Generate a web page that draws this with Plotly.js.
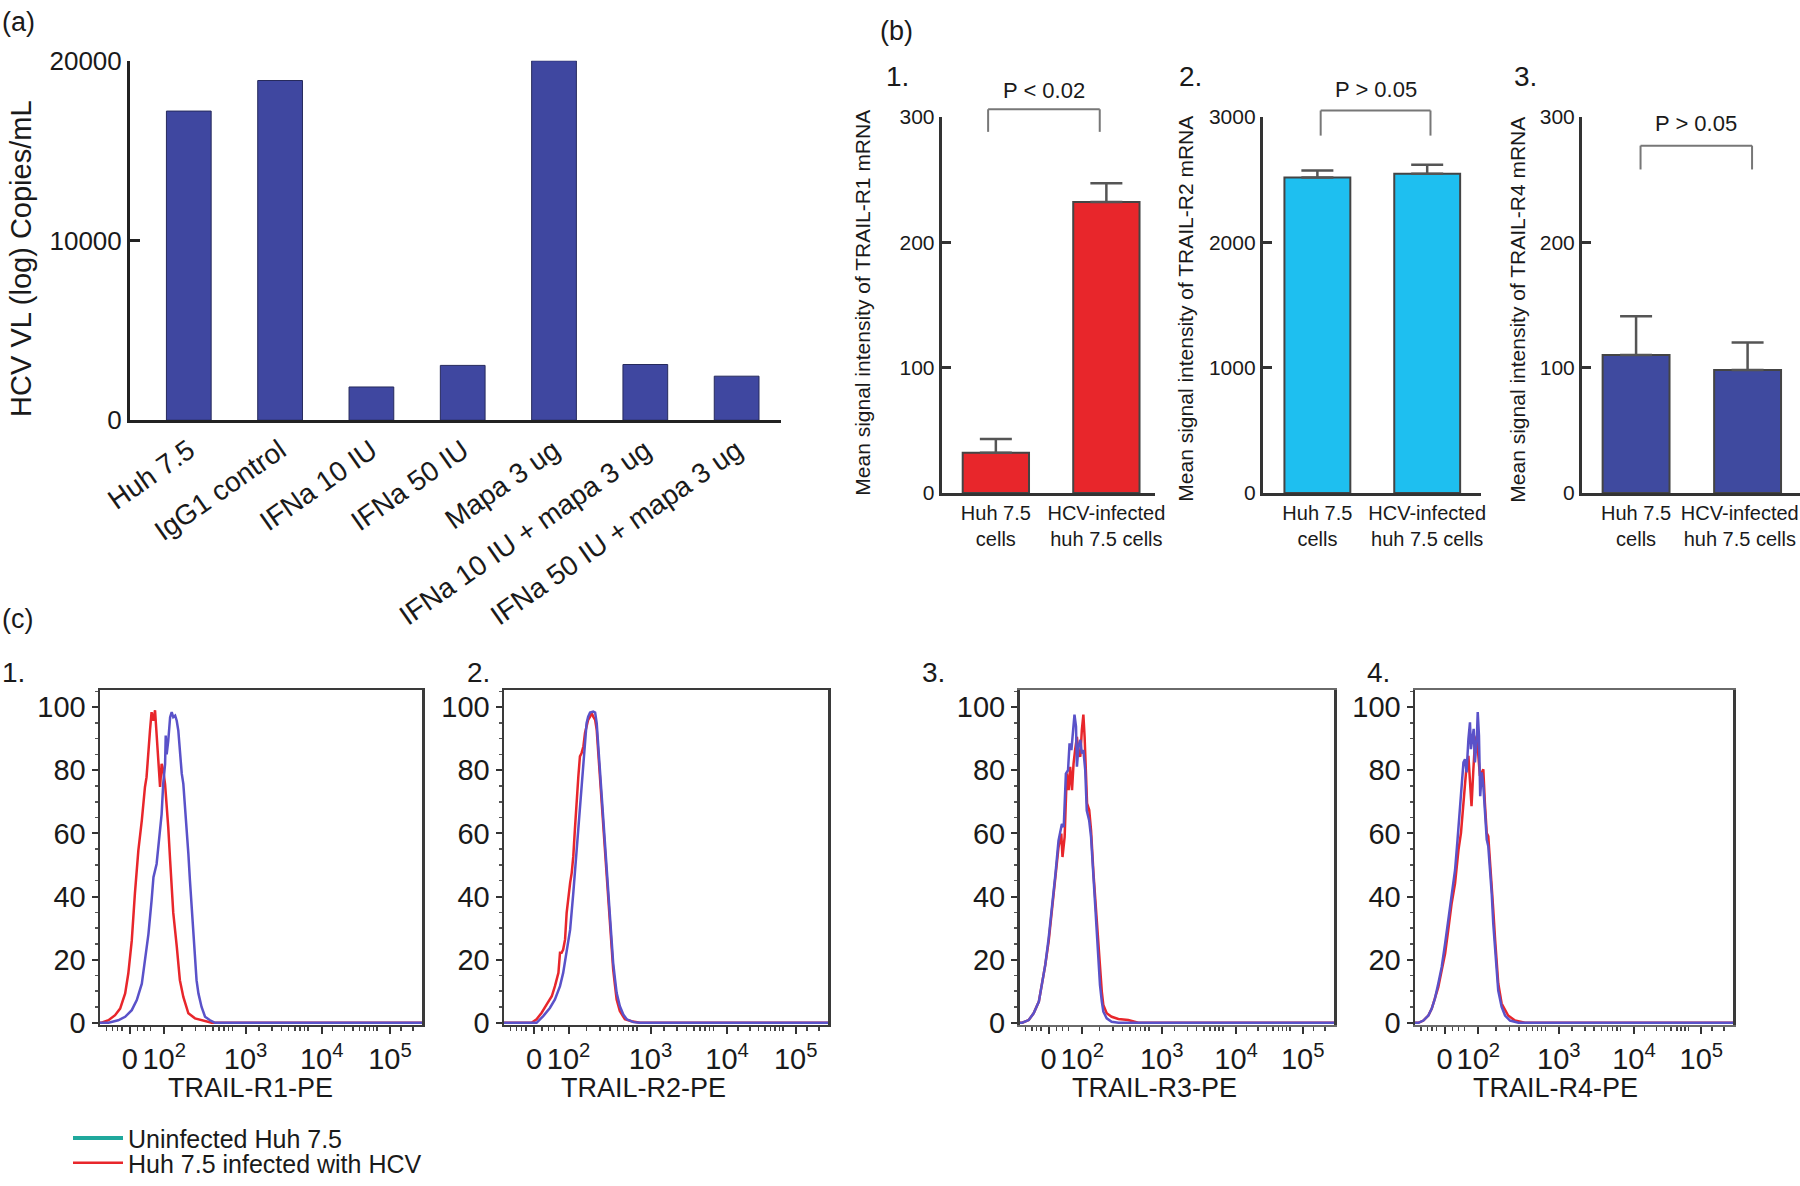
<!DOCTYPE html>
<html>
<head>
<meta charset="utf-8">
<script src="https://cdn.plot.ly/plotly-3.0.1.min.js"></script>
<style>
  html, body { margin: 0; padding: 0; background: #fff; }
  #chart { width: 1800px; height: 1186px; }
</style>
</head>
<body>
<div id="chart"></div>
<script>
// ---- (a) HCV viral load ----
const vlCategories = ['Huh 7.5', 'IgG1 control', 'IFNa 10 IU', 'IFNa 50 IU', 'Mapa 3 ug',
  'IFNa 10 IU + mapa 3 ug', 'IFNa 50 IU + mapa 3 ug'];
const vlValues = [17200, 18900, 1850, 3050, 20000, 3100, 2450];

// ---- (b) TRAIL receptor mRNA ----
const mrnaCategories = ['Huh 7.5<br>cells', 'HCV-infected<br>huh 7.5 cells'];
const r1Means = [32, 232];
const r1Errors = [11, 15];
const r2Means = [2515, 2545];
const r2Errors = [57, 72];
const r4Means = [110, 98];
const r4Errors = [31, 22];
const pLabels = ['P < 0.02', 'P > 0.05', 'P > 0.05'];
const bracketTop = [306, 3050, 277];
const bracketBottom = [288, 2850, 258];
const pTextY = [321, 3215, 295];

// ---- (c) flow histograms: [display channel 0-1024, % of max] ----
const r1Infected = [[0,0],[5,0],[27,0.8],[48,2.4],[64,4.5],[80,9.3],[90,15.6],[101,26],[111,40.9],[117,48.3],
  [122,54.6],[133,64.1],[138,70.5],[143,74.7],[148,77.8],[154,87.3],[159,92.6],[164,98.4],[170,95.7],[175,99],
  [180,91.5],[186,81],[191,74.7],[196,82],[201,80],[207,75.5],[212,69.4],[217,62],[223,51.5],[228,43],
  [233,34.8],[244,24.3],[254,13.5],[265,8.2],[281,3],[302,1.4],[323,0.8],[355,0],[1024,0]];
const r1Uninfected = [[0,0],[27,0],[58,0.8],[80,1.9],[101,4],[117,7.2],[133,12.4],[143,19.6],[154,28.1],[164,38.7],
  [170,46.1],[180,50.3],[191,59.8],[196,66.1],[201,75.7],[207,82],[209,91],[212,85],[217,89.3],[223,96.8],
  [228,98.4],[233,96.8],[239,97.3],[244,95.7],[249,92.6],[254,85.2],[260,78.9],[265,75.7],[270,69.4],[276,62],
  [281,53.6],[286,45.1],[292,36.7],[297,27.2],[302,19.8],[307,13.5],[313,9.3],[323,5],[334,1.9],[350,0.8],
  [366,0],[1024,0]];
const r2Infected = [[0,0],[87,0],[103,1.1],[119,3.2],[135,5.8],[151,8.4],[161,11.6],[172,15.8],[177,22.2],[182,22.2],
  [187,23.2],[193,26.4],[198,34.8],[203,40.1],[209,44.3],[214,47.5],[219,52.7],[224,61.2],[230,71.7],[235,78.1],
  [240,84.4],[245,85.4],[251,87.6],[256,91.8],[261,93.9],[266,96],[272,97],[277,98.1],[282,97],[288,96],
  [293,92.8],[298,85.4],[303,78.1],[309,69.6],[314,61.2],[319,52.7],[324,45.3],[330,37.9],[335,30.6],[340,23.2],
  [345,16.9],[351,11.6],[356,7.4],[366,3.7],[382,1.1],[403,0.5],[430,0],[1024,0]];
const r2Uninfected = [[0,0],[103,0],[124,2.1],[145,4.7],[161,7.4],[177,11.6],[187,15.8],[198,22.2],[209,29.5],[219,41.1],
  [224,47.5],[230,54.9],[235,61.2],[240,66.5],[245,74.9],[251,83.3],[256,89.6],[261,94.9],[266,97],[272,98.3],
  [282,98.6],[288,98.3],[293,94.9],[298,87.6],[303,79.1],[309,70.7],[314,62.2],[319,54.9],[324,47.5],[330,40.1],
  [335,32.7],[340,25.3],[345,19],[351,13.7],[356,9.5],[366,5.3],[377,2.6],[388,1.1],[409,0.2],[430,0],[1024,0]];
const r3Infected = [[0,0],[9,0],[30,0.85],[46,3],[63,6.7],[73,12],[84,18.4],[95,25.8],[106,35.4],[117,46],
  [127,55.6],[136,59.9],[140,52.5],[147,58.9],[151,73.7],[154,79],[160,73.7],[165,81.1],[171,73.7],[176,82.1],
  [181,86.4],[187,90.6],[192,85.3],[198,84.3],[203,92.8],[208,97.6],[212,90.6],[216,75.8],[220,69.5],[227,67.4],
  [233,61],[241,47.1],[246,39.6],[252,31.1],[257,23.7],[262,16.3],[268,9.9],[273,5.6],[284,3],[300,1.9],
  [322,1.2],[354,0.85],[387,0],[1024,0]];
const r3Uninfected = [[0,0],[9,0],[30,0.85],[46,3],[63,6.7],[73,12],[84,18.4],[95,26.9],[106,36.5],[117,47.1],
  [127,57.7],[138,63],[144,62],[151,78.9],[158,80],[163,88.5],[169,86.4],[173,90.6],[176,93.8],[179,97.6],
  [184,93.8],[187,81.1],[192,87.5],[198,89.6],[203,85.3],[208,86.4],[214,80],[219,67.2],[227,64],[233,58.8],
  [241,46],[246,37.5],[252,28],[257,19.5],[262,12],[268,6.7],[273,3.5],[284,1.4],[300,0.3],[322,0],[1024,0]];
const r4Infected = [[0,0],[11,0],[27,0.7],[43,2.3],[54,4.5],[64,7.6],[75,11.3],[86,16.6],[97,21.9],[107,29.4],
  [118,37.8],[129,44.2],[140,54.8],[148,60.1],[156,68.6],[161,76],[166,81.4],[172,84.6],[177,76],[182,68.6],
  [188,80.3],[193,88.8],[199,90.9],[204,84.6],[209,78.2],[215,79.3],[220,80.3],[225,69.7],[231,60.1],[236,59.1],
  [241,52.7],[247,45.3],[252,35.8],[258,26.3],[263,18.9],[268,12.5],[279,6.1],[290,3.9],[300,2.3],[322,0.7],
  [354,0],[1024,0]];
const r4Uninfected = [[0,0],[11,0],[27,0.7],[43,2.3],[54,4.5],[64,7.6],[75,12.4],[86,17.7],[97,25.1],[107,32.5],
  [118,39.9],[129,48.4],[137,58],[145,69.7],[150,74],[156,82.5],[161,83.5],[166,79.3],[172,89.9],[177,95.2],
  [180,86.7],[185,91],[189,93.1],[193,82.5],[199,89.9],[202,98.4],[206,91],[210,71.8],[215,79.3],[220,75.1],
  [225,65.5],[231,58],[236,55.9],[241,49.5],[247,41],[252,31.4],[258,22.9],[263,15.5],[268,10.2],[279,5],
  [290,2.3],[306,0.7],[333,0],[1024,0]];
const flowTitles = ['TRAIL-R1-PE', 'TRAIL-R2-PE', 'TRAIL-R3-PE', 'TRAIL-R4-PE'];
const flowTickVals = [95, 204, 463, 705, 922];
const flowTickText = ['0', '10<sup>2</sup>', '10<sup>3</sup>', '10<sup>4</sup>', '10<sup>5</sup>'];
const decadeVals = [188, 432, 673, 891, 1109];
const legendNames = ['Uninfected Huh 7.5', 'Huh 7.5 infected with HCV'];

const W = 1800, H = 1186;
const FONT = 'Liberation Sans, Arial, Helvetica, sans-serif';
const INK = '#1a1a1a';
const RED = '#e8262b';
const BLUE = '#5a52c9';
const px = x => x / W;
const py = y => 1 - y / H;

// minor ticks of the biexponential axis
const flowMinor = [20, 40, 55, 70, 120, 140, 160];
for (let d = 0; d < decadeVals.length - 1; d++) {
  for (let k = 2; k <= 9; k++) {
    const v = decadeVals[d] + Math.log10(k) * (decadeVals[d + 1] - decadeVals[d]);
    if (v < 1022) flowMinor.push(Math.round(v));
  }
}

const traces = [];
const layout = {
  width: W, height: H,
  margin: {l: 0, r: 0, t: 0, b: 0},
  paper_bgcolor: '#fff', plot_bgcolor: 'rgba(0,0,0,0)',
  font: {family: FONT, color: INK, size: 20},
  showlegend: true,
  annotations: [], shapes: []
};

function label(text, x, y, size, opts) {
  layout.annotations.push(Object.assign({
    text: text, xref: 'paper', yref: 'paper', x: px(x), y: py(y),
    xanchor: 'left', yanchor: 'middle', showarrow: false,
    font: {family: FONT, size: size, color: INK}
  }, opts || {}));
}

// ---- panel (a) ----
traces.push({
  type: 'bar', x: vlCategories, y: vlValues, xaxis: 'x', yaxis: 'y',
  width: 0.49, showlegend: false,
  marker: {color: '#3f47a0', line: {color: '#262a5c', width: 1}}
});
layout.xaxis = {
  domain: [px(130), px(781)], range: [-0.644, 6.486], anchor: 'y',
  showline: true, linecolor: '#222', linewidth: 3, ticks: '', tickangle: -35,
  tickfont: {size: 28}, showgrid: false, zeroline: false
};
layout.yaxis = {
  domain: [py(422), py(61)], range: [0, 20000], anchor: 'x',
  showline: true, linecolor: '#222', linewidth: 3,
  ticks: 'inside', ticklen: 10, tickwidth: 3, tickcolor: '#222',
  tickvals: [0, 10000, 20000], tickformat: 'd', tickfont: {size: 26},
  showgrid: false, zeroline: false
};
label('HCV VL (log) Copies/mL', 21, 260, 29, {textangle: -90, xanchor: 'center'});
label('(a)', 0, 22, 27);

// ---- panel (b) ----
const bPanels = [
  {means: r1Means, errs: r1Errors, color: '#e8262b', dom: [941.7, 1155], range: [-0.49, 1.44], tickX: [0, 1],
   yMax: 300, ticks: [0, 100, 200, 300], title: 'Mean signal intensity of TRAIL-R1 mRNA', titleX: 863, titleY: 304,
   num: '1.', numX: 884, bx: [-0.07, 0.94]},
  {means: r2Means, errs: r2Errors, color: '#1ebff0', dom: [1262.8, 1481], range: [-0.497, 1.49], tickX: [0, 1],
   yMax: 3000, ticks: [0, 1000, 2000, 3000], title: 'Mean signal intensity of TRAIL-R2 mRNA', titleX: 1186, titleY: 310,
   num: '2.', numX: 1177, bx: [0.03, 1.03]},
  // the last panel runs into the page edge, so its second label sits a little left of the bar
  {means: r4Means, errs: r4Errors, color: '#3f4a9f', dom: [1582, 1800], range: [-0.485, 1.47], tickX: [0, 0.93],
   yMax: 300, ticks: [0, 100, 200, 300], title: 'Mean signal intensity of TRAIL-R4 mRNA', titleX: 1518, titleY: 311,
   num: '3.', numX: 1512, bx: [0.04, 1.04]}
];
const bY0 = 495, bY1 = 117.3;
bPanels.forEach((p, i) => {
  const n = i + 2;
  traces.push({
    type: 'bar', x: [0, 1], y: p.means, xaxis: 'x' + n, yaxis: 'y' + n,
    width: 0.6, showlegend: false,
    marker: {color: p.color, line: {color: '#444', width: 2}},
    error_y: {type: 'data', array: p.errs, arrayminus: [0, 0], symmetric: false,
      color: '#555', thickness: 2.5, width: 16}
  });
  layout['xaxis' + n] = {
    domain: [px(p.dom[0]), px(p.dom[1])], range: p.range, anchor: 'y' + n,
    showline: true, linecolor: '#333', linewidth: 3, ticks: '',
    tickvals: p.tickX, ticktext: mrnaCategories, tickfont: {size: 20},
    ticklabeloverflow: 'allow', showgrid: false, zeroline: false
  };
  layout['yaxis' + n] = {
    domain: [py(bY0), py(bY1)], range: [0, p.yMax], anchor: 'x' + n,
    showline: true, linecolor: '#333', linewidth: 3,
    ticks: 'inside', ticklen: 9, tickwidth: 3, tickcolor: '#333',
    tickvals: p.ticks, tickfont: {size: 21}, showgrid: false, zeroline: false
  };
  // significance bracket in paper coordinates of this subplot
  const toX = v => px(p.dom[0] + (v - p.range[0]) / (p.range[1] - p.range[0]) * (p.dom[1] - p.dom[0]));
  const toY = v => py(bY0 - v / p.yMax * (bY0 - bY1));
  const xa = toX(p.bx[0]), xb = toX(p.bx[1]);
  const yt = toY(bracketTop[i]), yb = toY(bracketBottom[i]);
  const ln = {color: '#777', width: 2};
  layout.shapes.push({type: 'line', xref: 'paper', yref: 'paper', x0: xa, x1: xb, y0: yt, y1: yt, line: ln});
  layout.shapes.push({type: 'line', xref: 'paper', yref: 'paper', x0: xa, x1: xa, y0: yt, y1: yb, line: ln});
  layout.shapes.push({type: 'line', xref: 'paper', yref: 'paper', x0: xb, x1: xb, y0: yt, y1: yb, line: ln});
  layout.annotations.push({
    text: pLabels[i], xref: 'paper', yref: 'paper', x: (xa + xb) / 2, y: toY(pTextY[i]),
    xanchor: 'center', yanchor: 'middle', showarrow: false, font: {family: FONT, size: 22, color: INK}
  });
  label(p.title, p.titleX, p.titleY, 21, {textangle: -90, xanchor: 'center'});
  label(p.num, p.numX, 77, 28);
});
label('(b)', 878, 31, 27);

// ---- panel (c) ----
const cPanels = [
  {inf: r1Infected, uninf: r1Uninfected, dom: [100, 422], line: '#3a3a3a', num: '1.', numX: 0, titleX: 250},
  {inf: r2Infected, uninf: r2Uninfected, dom: [504, 828], line: '#3a3a3a', num: '2.', numX: 465, titleX: 643},
  {inf: r3Infected, uninf: r3Uninfected, dom: [1019.5, 1334], line: '#6a6a6a', num: '3.', numX: 920, titleX: 1154},
  {inf: r4Infected, uninf: r4Uninfected, dom: [1415, 1733], line: '#6a6a6a', num: '4.', numX: 1365, titleX: 1555}
];
traces.push({
  type: 'scatter', mode: 'lines', x: [null], y: [null], xaxis: 'x6', yaxis: 'y6',
  name: legendNames[0], legend: 'legend', showlegend: true, line: {color: '#1fa89c', width: 4}
});
cPanels.forEach((p, i) => {
  const n = i + 5;
  traces.push({
    type: 'scatter', mode: 'lines', xaxis: 'x' + n, yaxis: 'y' + n,
    x: p.inf.map(d => d[0]), y: p.inf.map(d => d[1]),
    name: legendNames[1], legend: 'legend2', showlegend: i === 0,
    line: {color: RED, width: 2.5}
  });
  traces.push({
    type: 'scatter', mode: 'lines', xaxis: 'x' + n, yaxis: 'y' + n,
    x: p.uninf.map(d => d[0]), y: p.uninf.map(d => d[1]),
    showlegend: false, line: {color: BLUE, width: 2.5}
  });
  layout['xaxis' + n] = {
    domain: [px(p.dom[0]), px(p.dom[1])], range: [0, 1024], anchor: 'y' + n,
    showline: true, mirror: true, linecolor: p.line, linewidth: 2.5,
    ticks: 'outside', ticklen: 7, tickwidth: 2, tickcolor: '#333',
    tickvals: flowTickVals, ticktext: flowTickText, tickfont: {size: 29},
    minor: {tickvals: flowMinor, ticks: 'outside', ticklen: 4, tickwidth: 1.5, tickcolor: '#444'},
    showgrid: false, zeroline: false
  };
  layout['yaxis' + n] = {
    domain: [py(1029), py(693.3)], range: [-0.6, 105.3], anchor: 'x' + n,
    showline: true, mirror: true, linecolor: '#3a3a3a', linewidth: 2.5,
    ticks: 'outside', ticklen: 6, tickwidth: 2, tickcolor: '#333',
    tickvals: [0, 20, 40, 60, 80, 100], tickfont: {size: 29},
    minor: {dtick: 5, ticks: 'outside', ticklen: 3, tickwidth: 1.5, tickcolor: '#555'},
    showgrid: false, zeroline: false
  };
  label(flowTitles[i], p.titleX, 1093, 27, {xanchor: 'center'});
  label(p.num, p.numX, 675, 28);
});
label('(c)', 0, 622, 27);

const legendBase = {
  xanchor: 'left', yanchor: 'middle', bgcolor: 'rgba(0,0,0,0)', borderwidth: 0,
  font: {family: FONT, size: 25, color: INK}, itemwidth: 50, tracegroupgap: 0
};
layout.legend = Object.assign({x: px(68), y: py(1143)}, legendBase);
layout.legend2 = Object.assign({x: px(68), y: py(1168)}, legendBase);

Plotly.newPlot('chart', traces, layout, {displayModeBar: false, staticPlot: true});
</script>
</body>
</html>
